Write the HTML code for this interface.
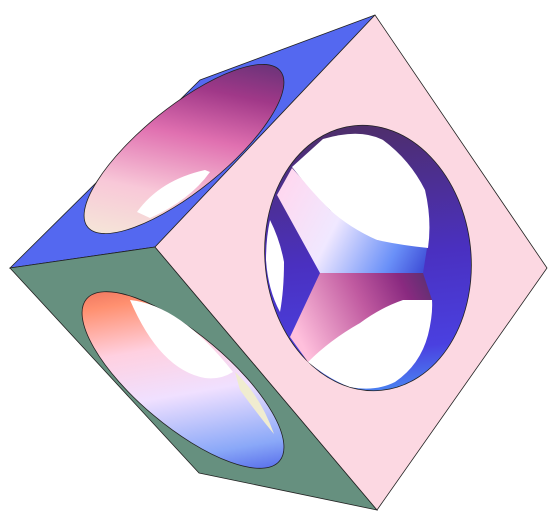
<!DOCTYPE html>
<html><head><meta charset="utf-8"><style>
html,body{margin:0;padding:0;background:#fff;}
svg{display:block;}
</style></head><body>
<svg width="560" height="525" viewBox="0 0 560 525">
<defs>
<linearGradient id="gBlueHole" x1="90" y1="225" x2="280" y2="70" gradientUnits="userSpaceOnUse">
<stop offset="0" stop-color="#f4f0d8"/><stop offset="0.3" stop-color="#f8c8d8"/><stop offset="0.55" stop-color="#e070b0"/><stop offset="0.75" stop-color="#a03888"/><stop offset="1" stop-color="#4a3070"/>
</linearGradient>
<linearGradient id="gGreenHole" x1="90" y1="300" x2="280" y2="460" gradientUnits="userSpaceOnUse">
<stop offset="0" stop-color="#e06050"/><stop offset="0.15" stop-color="#ff9070"/><stop offset="0.35" stop-color="#ffd0e0"/><stop offset="0.55" stop-color="#f0e0ff"/><stop offset="0.8" stop-color="#8aa8f8"/><stop offset="1" stop-color="#3040e0"/>
</linearGradient>
<linearGradient id="gPinkHole" x1="0" y1="0" x2="0" y2="1">
<stop offset="0" stop-color="#4e2e6a"/><stop offset="0.5" stop-color="#4a30c0"/><stop offset="0.85" stop-color="#4a40e0"/><stop offset="1" stop-color="#4a80f0"/>
</linearGradient>
<linearGradient id="gArm" x1="280" y1="190" x2="425" y2="265" gradientUnits="userSpaceOnUse">
<stop offset="0" stop-color="#ffd8f0"/><stop offset="0.4" stop-color="#f0e8ff"/><stop offset="0.8" stop-color="#6a90f8"/><stop offset="1" stop-color="#4050d8"/>
</linearGradient>
<linearGradient id="gArm2" x1="300" y1="340" x2="430" y2="275" gradientUnits="userSpaceOnUse">
<stop offset="0" stop-color="#ffc0dc"/><stop offset="0.5" stop-color="#c05aa0"/><stop offset="0.8" stop-color="#8a2a80"/><stop offset="1" stop-color="#5a3070"/>
</linearGradient>
</defs>
<polygon points="10,268 200,80 375,15 155,247" fill="#5468f0" stroke="#222" stroke-width="0.8"/>
<polygon points="10,268 155,247 377,510 199,473" fill="#66907f" stroke="#222" stroke-width="0.8"/>
<polygon points="375,15 547,268 377,510 155,247" fill="#fcd8e2" stroke="#222" stroke-width="0.8"/>
<g>
<ellipse cx="184" cy="149" rx="124" ry="42" transform="rotate(-39 184 149)" fill="url(#gBlueHole)" stroke="#222" stroke-width="0.8"/>
<path d="M137,212 Q160,180 205,170 L210,172 Q190,200 150,218 Z" fill="#fff"/>
</g>
<g>
<ellipse cx="183" cy="380" rx="126" ry="46" transform="rotate(40 183 380)" fill="url(#gGreenHole)" stroke="#222" stroke-width="0.8"/>
<path d="M130,300 Q180,305 233,372 Q220,380 205,378 Q160,370 130,300 Z" fill="#fff"/>
<path d="M235,372 Q260,395 274,434 Q262,420 240,390 Z" fill="#f0ecd0"/>
</g>
<g>
<ellipse cx="368" cy="258" rx="103" ry="133" transform="rotate(-6 368 258)" fill="url(#gPinkHole)" stroke="#222" stroke-width="0.8"/>
<polygon points="277,195 292,168 330,210 377,240 427,248 423,273 320,273" fill="url(#gArm)"/>
<polygon points="320,273 423,273 432,300 403,300 360,323 308,362 290,337" fill="url(#gArm2)"/>
<path d="M292,167 L323,139 Q360,128 383,140 Q410,160 425,190 Q432,220 428,248 Q400,245 377,240 Q350,228 330,210 Q310,190 292,167 Z" fill="#fff"/>
<path d="M270,220 Q280,240 284,262 Q284,290 280,312 Q268,290 266,260 Q266,238 270,220 Z" fill="#fff"/>
<path d="M308,362 Q330,380 350,387 Q375,392 395,382 Q420,365 428,335 Q433,315 432,300 L403,300 Q380,308 360,323 Q330,340 308,362 Z" fill="#fff"/>
</g>
</svg>
</body></html>
